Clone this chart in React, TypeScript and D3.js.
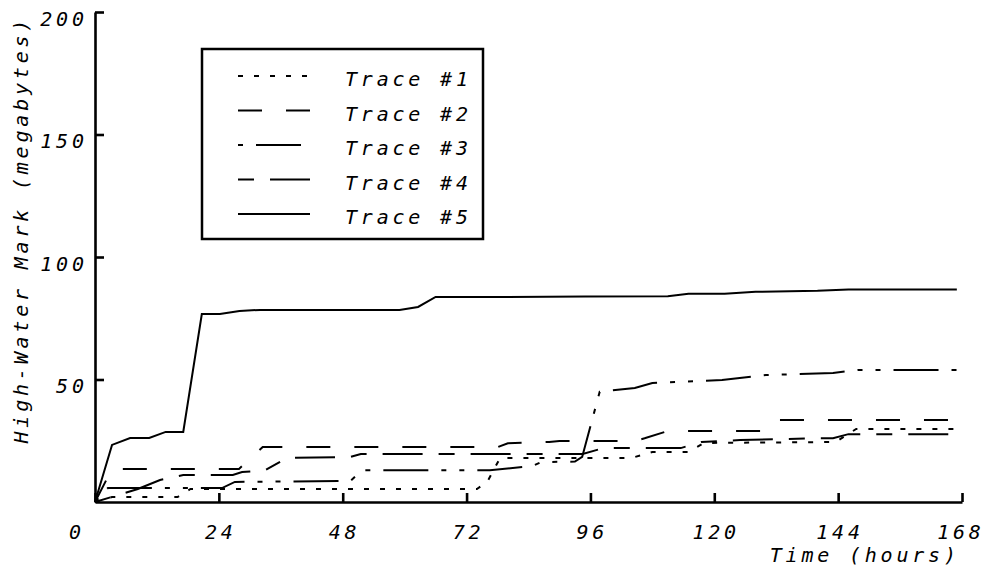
import { useRef, useEffect } from 'react';
import * as d3 from 'd3';

const WIDTH = 985;
const HEIGHT = 575;
const PLOT = { left: 95, right: 962, top: 12, bottom: 502 };

// hours / megabytes
const xTicks = [0, 24, 48, 72, 96, 120, 144, 168];
const yTicks = [50, 100, 150, 200];
const traceNames = ['Trace #1', 'Trace #2', 'Trace #3', 'Trace #4', 'Trace #5'];

const trace1 = [[0, 0], [3.3, 2], [16, 2], [18.5, 5.3], [74, 5.3], [76, 8.2], [78.5, 18], [104, 18], [108, 20.4], [115, 20.4], [118, 24.1], [143.5, 24.5], [147.5, 29.8], [167, 29.8]];
const trace2 = [[0, 0], [3.3, 13.5], [27.9, 13.5], [32.5, 22.4], [78, 22.4], [80, 24], [88, 24.5], [90, 24.9], [104.5, 24.9], [106.5, 26], [111, 29], [129.5, 29], [130.5, 30.6], [132, 33.5], [167, 33.5]];
const trace3 = [[0, 0], [2.5, 5.7], [24.6, 5.7], [27.1, 8.2], [49.5, 8.6], [51.8, 13], [76.5, 13], [84.8, 14.7], [86.5, 16.3], [93, 16.5], [94.4, 18.4], [97.8, 45], [104.6, 46.5], [108, 48.6], [117, 49.4], [121.5, 49.8], [130, 51.8], [143, 52.7], [148, 53.9], [167, 53.9]];
const trace4 = [[0, 0], [8.3, 5.3], [12.6, 9], [17.1, 11], [26.7, 11], [28.5, 12.2], [33, 13], [37.2, 18], [49.5, 18.4], [51.5, 19.6], [94.5, 19.6], [98.5, 22], [113.5, 22], [117.5, 24.5], [125, 25.3], [139.5, 26], [143, 26], [146, 27.7], [167, 27.7]];
const trace5 = [[0, 0], [3.3, 23.3], [6.8, 26.1], [10.5, 26.1], [13.7, 28.6], [17.1, 28.6], [20.7, 76.7], [24.2, 76.7], [28, 78], [32, 78.4], [59, 78.4], [62.6, 79.6], [66, 83.7], [80, 83.7], [95, 83.9], [111, 84], [115, 85], [122, 85], [128, 85.8], [140, 86.2], [146, 86.7], [167, 86.7]];

const traces = [trace1, trace2, trace3, trace4, trace5];
const dashes = ['5,11', '24,24', '5,13,45,13,5,13', '16,16,40,16', null];

const FONT = '"DejaVu Sans Mono", "Liberation Mono", monospace';
const LS = 3.8;

export default function App() {
  const svgRef = useRef(null);

  useEffect(() => {
    const svg = d3.select(svgRef.current);
    svg.selectAll('*').remove();

    const x = d3.scaleLinear().domain([0, 168]).range([PLOT.left, PLOT.right]);
    const y = d3.scaleLinear().domain([0, 200]).range([PLOT.bottom, PLOT.top]);

    const text = (sel) => sel
      .attr('font-family', FONT).attr('font-style', 'italic')
      .attr('font-size', 20).attr('letter-spacing', LS).attr('fill', '#000');

    // axes, ticks pointing inward
    const xAxis = svg.append('g').attr('transform', `translate(0,${PLOT.bottom})`)
      .call(d3.axisBottom(x).tickValues(xTicks).tickSizeInner(-9).tickSizeOuter(0).tickFormat(() => ''));
    const yAxis = svg.append('g').attr('transform', `translate(${PLOT.left},0)`)
      .call(d3.axisLeft(y).tickValues(yTicks).tickSizeInner(-9).tickSizeOuter(0).tickFormat(() => ''));
    [xAxis, yAxis].forEach(a => {
      a.selectAll('path, line').attr('stroke', '#000').attr('stroke-width', 2.6);
    });

    xTicks.forEach(t => {
      svg.append('text').call(text)
        .attr('x', x(t) + LS / 2 - (t === 0 ? 20 : t === 168 ? 3 : 0)).attr('y', 539)
        .attr('text-anchor', 'middle').text(t);
    });
    yTicks.forEach(t => {
      svg.append('text').call(text)
        .attr('x', 84 + LS).attr('y', y(t) + 13.5)
        .attr('text-anchor', 'end').text(t);
    });

    svg.append('text').call(text)
      .attr('x', 956 + LS).attr('y', 562).attr('text-anchor', 'end').text('Time (hours)');
    svg.append('text').call(text)
      .attr('transform', `translate(28,${12 + LS}) rotate(-90)`)
      .attr('text-anchor', 'end').text('High-Water Mark (megabytes)');

    const line = d3.line().x(d => x(d[0])).y(d => y(d[1]));
    traces.forEach((tr, i) => {
      svg.append('path').attr('d', line(tr))
        .attr('fill', 'none').attr('stroke', '#000').attr('stroke-width', 2)
        .attr('stroke-dasharray', dashes[i]);
    });

    // legend
    const legend = svg.append('g').attr('transform', 'translate(202,49)');
    legend.append('rect').attr('width', 281).attr('height', 190)
      .attr('fill', '#fff').attr('stroke', '#000').attr('stroke-width', 2.5);
    traceNames.forEach((name, i) => {
      const row = legend.append('g').attr('transform', `translate(0,${27 + i * 34.5})`);
      row.append('line').attr('x1', 36).attr('x2', 108)
        .attr('stroke', '#000').attr('stroke-width', 2)
        .attr('stroke-dasharray', dashes[i]);
      row.append('text').call(text).attr('x', 143).attr('y', 10).text(name);
    });
  }, []);

  return (
    <svg ref={svgRef} width={WIDTH} height={HEIGHT}
      style={{ position: 'absolute', left: 0, top: 0, background: '#fff' }} />
  );
}
